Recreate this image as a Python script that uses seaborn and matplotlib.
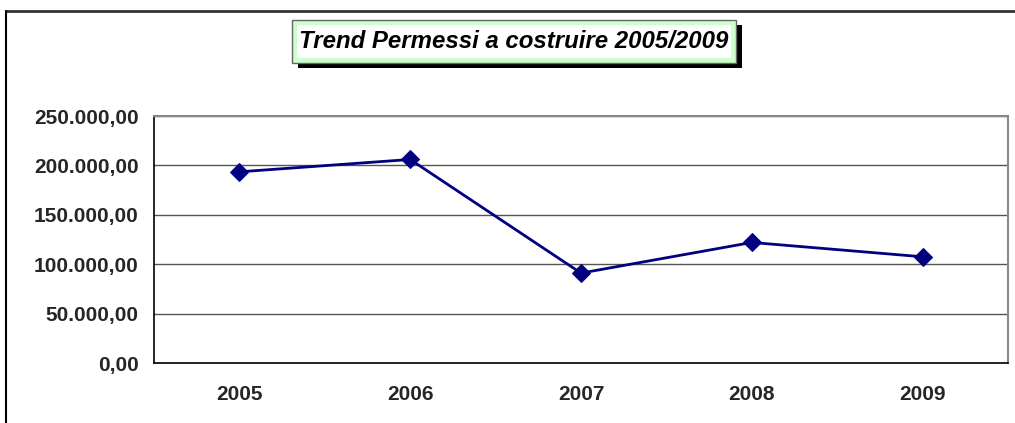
import matplotlib
matplotlib.use("Agg")
import matplotlib.pyplot as plt
import seaborn as sns
import pandas as pd
from matplotlib.patches import Rectangle
from matplotlib.lines import Line2D
from matplotlib.ticker import FuncFormatter, FixedLocator

years = ["2005", "2006", "2007", "2008", "2009"]
permessi = [193500, 206000, 91000, 122000, 107500]
y_ticks = [0, 50000, 100000, 150000, 200000, 250000]
title = "Trend Permessi a costruire 2005/2009"

df = pd.DataFrame({"Anno": years, "Valore": permessi})

sns.set_theme(style="white")
plt.rcParams["font.family"] = ["Liberation Sans", "DejaVu Sans"]

W, H = 1015, 423
fig = plt.figure(figsize=(W / 100, H / 100), dpi=100)
fig.patch.set_facecolor("white")
ax = fig.add_axes([154 / W, 1 - 363 / H, (1008 - 154) / W, (363 - 116) / H])

sns.lineplot(data=df, x="Anno", y="Valore", ax=ax, color="#000080", linewidth=2,
             marker="D", markersize=9, markeredgecolor="#000080", sort=False)

ax.set_xlim(-0.5, len(years) - 0.5)
ax.set_ylim(y_ticks[0], y_ticks[-1])
ax.set_yticks(y_ticks)
fmt = lambda v, p: f"{v:,.2f}".replace(",", "X").replace(".", ",").replace("X", ".")
ax.yaxis.set_major_formatter(FuncFormatter(fmt))
ax.grid(axis="y", color="#555555", linewidth=1)
ax.set_axisbelow(True)
ax.set_xlabel("")
ax.set_ylabel("")

# category boundaries as x ticks, labels in the middle
ax.xaxis.set_minor_locator(FixedLocator([i - 0.5 for i in range(len(years) + 1)]))
ax.tick_params(axis="x", which="major", length=0, pad=16, labelsize=15)
ax.tick_params(axis="x", which="minor", length=6, width=1, color="black", direction="out")
ax.tick_params(axis="y", length=6, width=1, color="black", direction="out", pad=5, labelsize=15)
for lab in ax.get_xticklabels() + ax.get_yticklabels():
    lab.set_fontweight("bold")

for side in ["left", "bottom"]:
    ax.spines[side].set_color("black")
    ax.spines[side].set_linewidth(1.2)
for side in ["right", "top"]:
    ax.spines[side].set_color("#888888")
    ax.spines[side].set_linewidth(1.5)

# outer frame (cut at right/bottom like the reference)
fig.add_artist(Line2D([6 / W, 1], [1 - 11 / H, 1 - 11 / H], color="#333333", linewidth=2, transform=fig.transFigure))
fig.add_artist(Line2D([6 / W, 6 / W], [0, 1 - 11 / H], color="black", linewidth=1.5, transform=fig.transFigure))

# title box with shadow: gray outline, light green frame, white inside
bx0, bx1, by0, by1 = 292, 736, 20, 63
bw, bh = (bx1 - bx0) / W, (by1 - by0) / H
fig.add_artist(Rectangle(((bx0 + 6) / W, 1 - (by1 + 5) / H), bw, bh,
                         facecolor="black", edgecolor="none", transform=fig.transFigure))
fig.add_artist(Rectangle((bx0 / W, 1 - by1 / H), bw, bh,
                         facecolor="#ccffcc", edgecolor="#666666", linewidth=1, transform=fig.transFigure))
fig.add_artist(Rectangle(((bx0 + 5) / W, 1 - (by1 - 5) / H), (bx1 - bx0 - 10) / W, (by1 - by0 - 10) / H,
                         facecolor="white", edgecolor="none", transform=fig.transFigure))
fig.text((bx0 + bx1) / 2 / W, 1 - (by0 + by1) / 2 / H, title, ha="center", va="center",
         fontsize=17.3, fontweight="bold", fontstyle="italic", color="black")

fig.savefig("out.png", dpi=100)
